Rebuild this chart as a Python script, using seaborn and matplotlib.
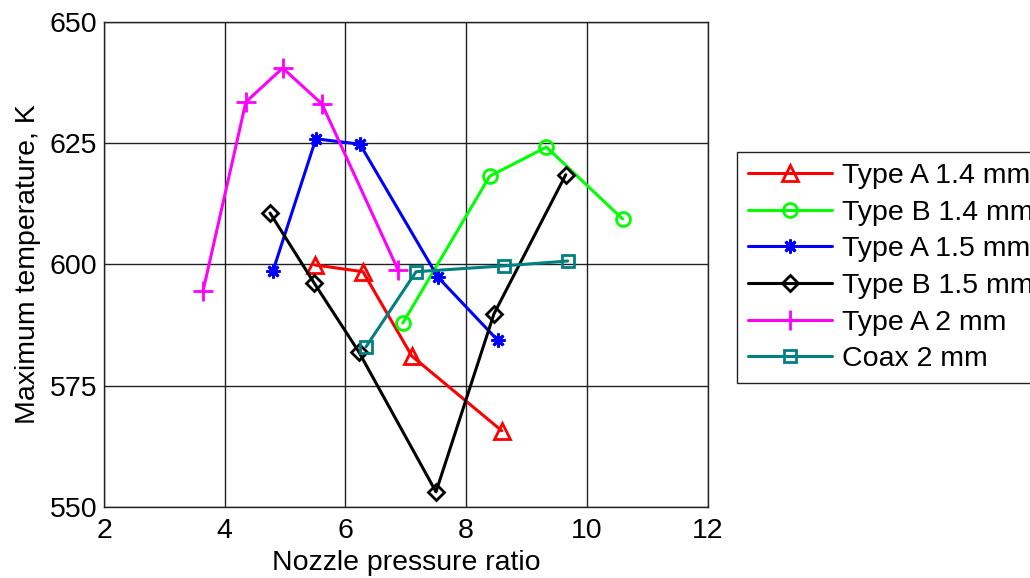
import numpy as np
import pandas as pd
import matplotlib.pyplot as plt
import seaborn as sns

# --- data ---
series_names = ["Type A 1.4 mm", "Type B 1.4 mm", "Type A 1.5 mm",
                "Type B 1.5 mm", "Type A 2 mm", "Coax 2 mm"]

npr_a14 = [5.49, 6.29, 7.10, 8.59]
temp_a14 = [599.9, 598.5, 581.1, 565.7]

npr_b14 = [6.95, 8.39, 9.33, 10.59]
temp_b14 = [587.9, 618.2, 624.2, 609.4]

npr_a15 = [4.80, 5.51, 6.24, 7.53, 8.52]
temp_a15 = [598.7, 625.9, 624.8, 597.4, 584.4]

npr_b15 = [4.75, 5.48, 6.22, 7.50, 8.46, 9.65]
temp_b15 = [610.6, 596.2, 582.0, 553.1, 589.8, 618.5]

npr_a2 = [3.64, 4.35, 4.96, 5.61, 6.87]
temp_a2 = [594.5, 633.5, 640.5, 633.1, 598.9]

npr_coax = [6.34, 7.17, 8.62, 9.68]
temp_coax = [583.0, 598.5, 599.7, 600.7]

x_ticks = [2, 4, 6, 8, 10, 12]
y_ticks = [550, 575, 600, 625, 650]

# --- style ---
sns.set_style("white")
plt.rcParams['font.family'] = ['Liberation Sans', 'DejaVu Sans']
plt.rcParams['text.color'] = 'black'
plt.rcParams['axes.labelcolor'] = 'black'
plt.rcParams['xtick.color'] = 'black'
plt.rcParams['ytick.color'] = 'black'
FS = 20.5

colors = ["#ff0000", "#00ff00", "#0000ff", "#000000", "#ff00ff", "#008080"]
markers = ["^", "o", (8, 2, 0), "D", "+", "s"]
msizes = [11, 10, 10, 8, 14, 9]

all_x = [npr_a14, npr_b14, npr_a15, npr_b15, npr_a2, npr_coax]
all_y = [temp_a14, temp_b14, temp_a15, temp_b15, temp_a2, temp_coax]

df = pd.concat([
    pd.DataFrame({"npr": xs, "temp": ys, "series": name})
    for name, xs, ys in zip(series_names, all_x, all_y)
], ignore_index=True)

fig = plt.figure(figsize=(10.3, 5.78), dpi=100)
ax = fig.add_axes([0.101, 0.123, 0.586, 0.839])

for name, c, m, ms in zip(series_names, colors, markers, msizes):
    sub = df[df["series"] == name]
    sns.lineplot(data=sub, x="npr", y="temp", ax=ax, sort=False,
                 color=c, lw=2.2, marker=m, markersize=ms,
                 markerfacecolor="none", markeredgecolor=c,
                 markeredgewidth=2.0, label=name)

ax.set_xlim(2, 12)
ax.set_ylim(550, 650)
ax.set_xticks(x_ticks)
ax.set_yticks(y_ticks)
ax.grid(True, color="#222222", lw=1.0)
ax.set_axisbelow(True)
for sp in ax.spines.values():
    sp.set_color("#222222")
    sp.set_linewidth(1.0)
ax.tick_params(labelsize=FS, length=0)
ax.tick_params(axis="x", pad=8)
ax.tick_params(axis="y", pad=5)
ax.set_xlabel("Nozzle pressure ratio", fontsize=FS, labelpad=4)
ax.set_ylabel("Maximum temperature, K", fontsize=FS, labelpad=6)

handles, labels = ax.get_legend_handles_labels()
ax.legend(handles, labels, loc="upper left",
          bbox_to_anchor=(737 / 1030, 1 - 152 / 578),
          bbox_transform=fig.transFigure, borderaxespad=0,
          fontsize=FS, handlelength=2.95, handletextpad=0.35,
          labelspacing=0.37, borderpad=0.4, fancybox=False,
          framealpha=1, edgecolor="#222222")
ax.get_legend().get_frame().set_linewidth(1.0)

fig.savefig("out.png", dpi=100)
